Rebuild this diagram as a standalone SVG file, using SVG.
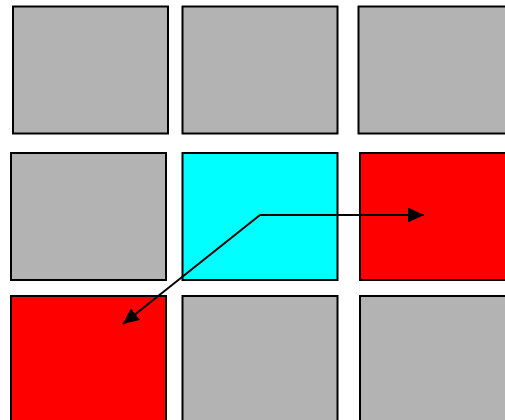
<svg xmlns="http://www.w3.org/2000/svg" width="505" height="420" viewBox="0 0 505 420">
<style>
.n{stroke:#000;stroke-width:2}
.g{fill:#b3b3b3}
.c{fill:#00ffff}
.r{fill:#ff0000}
.e{fill:none;stroke:#000;stroke-width:2}
</style>
<defs>
<marker id="ah" markerUnits="userSpaceOnUse" markerWidth="17" markerHeight="16" refX="16" refY="7.5" orient="auto">
<path d="M0,0 L16,7.5 L0,15 z" fill="#000"/>
</marker>
</defs>
<rect width="505" height="420" fill="#fff"/>
<g id="n00"><rect class="n g" x="13" y="6.5" width="155" height="127"/></g>
<g id="n01"><rect class="n g" x="182.5" y="6.5" width="155" height="127"/></g>
<g id="n02"><rect class="n g" x="358.5" y="6.5" width="160" height="127"/></g>
<g id="n10"><rect class="n g" x="11" y="153" width="155" height="127"/></g>
<g id="n11"><rect class="n c" x="182.5" y="153" width="155" height="127"/></g>
<g id="n12"><rect class="n r" x="360" y="153" width="160" height="127"/></g>
<g id="n20"><rect class="n r" x="11" y="296" width="155" height="140"/></g>
<g id="n21"><rect class="n g" x="182.5" y="296" width="155" height="140"/></g>
<g id="n22"><rect class="n g" x="360" y="296" width="160" height="140"/></g>
<g id="edges">
<path class="e" d="M260,215 L424,215" marker-end="url(#ah)"/>
<path class="e" d="M260,215 L123,324" marker-end="url(#ah)"/>
</g>
</svg>
